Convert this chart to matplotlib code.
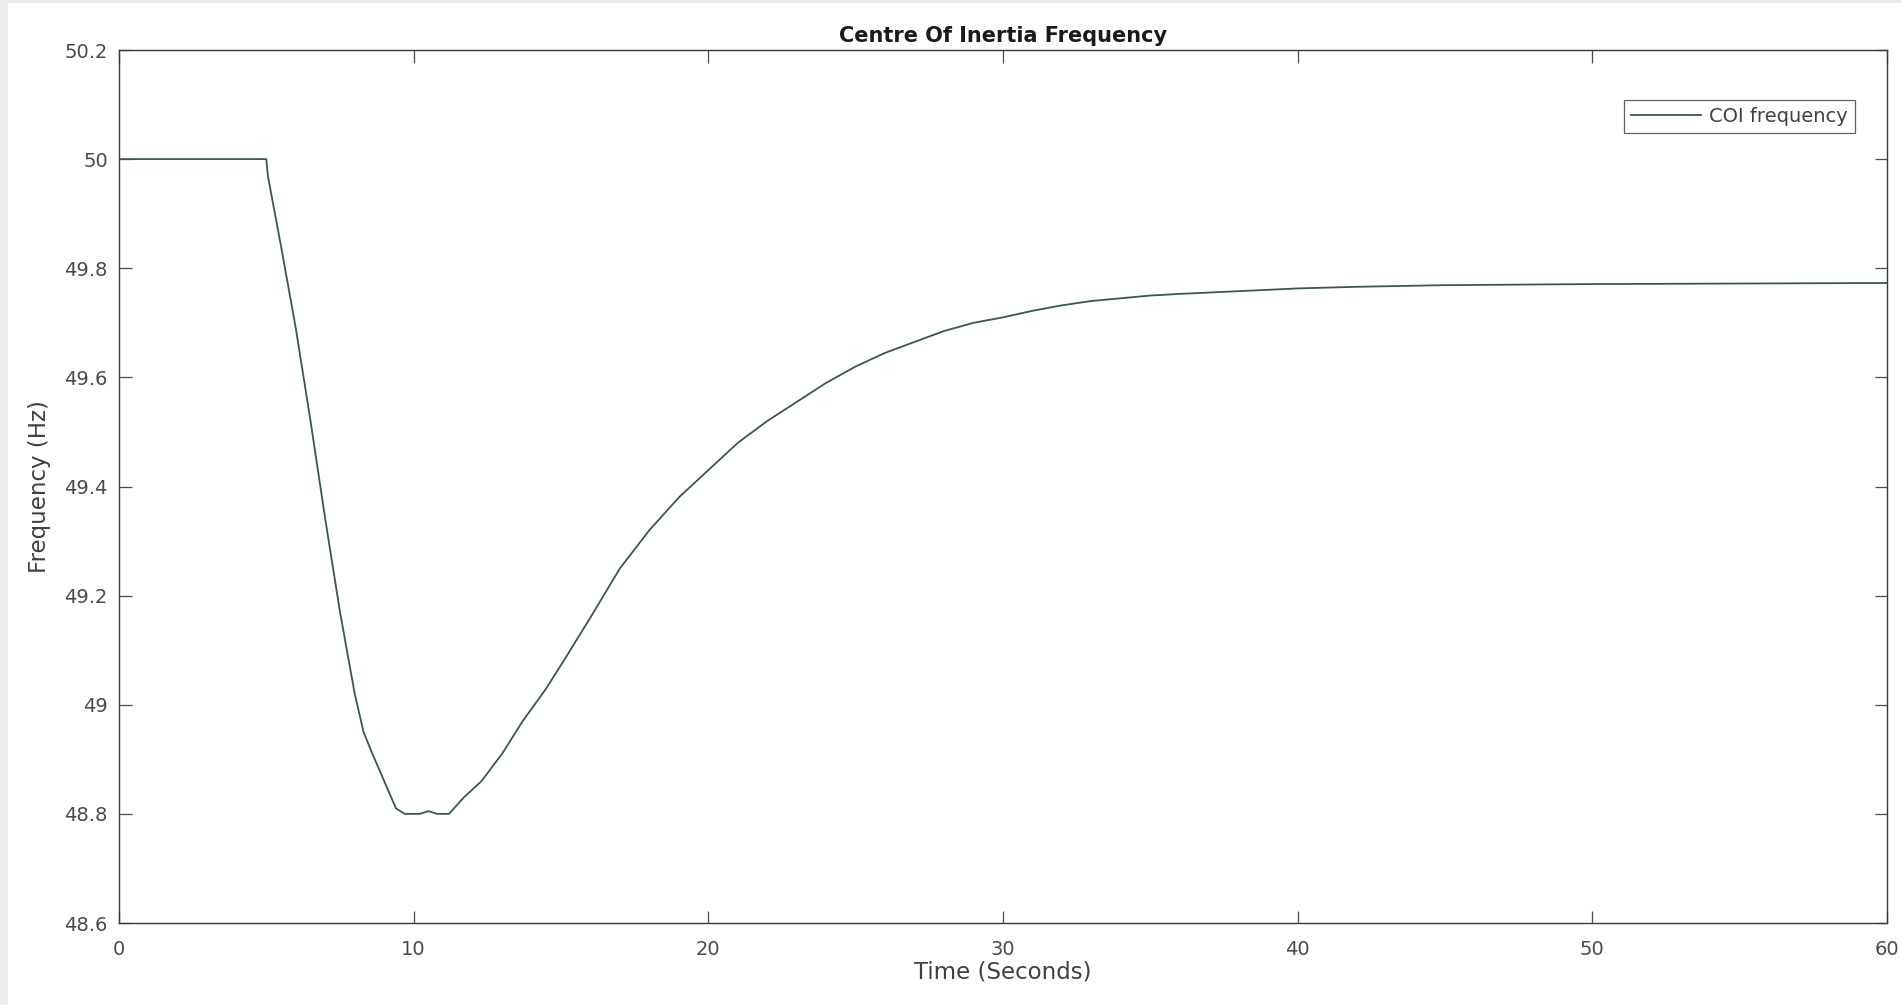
import numpy as np
import matplotlib
matplotlib.use("Agg")
import matplotlib.pyplot as plt
from matplotlib.patches import Rectangle

# COI frequency trace
time_s = [0, 5.0, 5.05, 5.5, 6.0, 6.5, 7.0, 7.5, 8.0, 8.3, 8.6, 9.0, 9.4, 9.7,
          10.2, 10.5, 10.8, 11.2, 11.7, 12.3, 13.0, 13.7, 14.5, 15.2, 16.0,
          17.0, 18.0, 19.0, 20.0, 21.0, 22.0, 23.0, 24.0, 25.0, 26.0, 27.0,
          28.0, 29.0, 30.0, 31.0, 32.0, 33.0, 34.0, 35.0, 36.0, 38.0, 40.0,
          42.0, 45.0, 50.0, 55.0, 60.0]
coi_freq = [50.0, 50.0, 49.97, 49.84, 49.69, 49.52, 49.34, 49.17, 49.02, 48.95,
            48.91, 48.86, 48.81, 48.80, 48.80, 48.805, 48.80, 48.80, 48.83,
            48.86, 48.91, 48.97, 49.03, 49.09, 49.16, 49.25, 49.32, 49.38,
            49.43, 49.48, 49.52, 49.555, 49.59, 49.62, 49.645, 49.665, 49.685,
            49.70, 49.71, 49.722, 49.732, 49.74, 49.745, 49.75, 49.753, 49.758,
            49.763, 49.766, 49.769, 49.771, 49.772, 49.773]

x_ticks = [0, 10, 20, 30, 40, 50, 60]
y_ticks = [48.6, 48.8, 49.0, 49.2, 49.4, 49.6, 49.8, 50.0, 50.2]
y_ticklabels = ["48.6", "48.8", "49", "49.2", "49.4", "49.6", "49.8", "50", "50.2"]

W, H = 1901, 1005
fig = plt.figure(figsize=(W / 100, H / 100), dpi=100, facecolor="#ececec")
# white canvas with a thin grey strip on top / left like the screenshot
fig.patches.append(Rectangle((8 / W, 0), 1, 1 - 3 / H, transform=fig.transFigure,
                             facecolor="white", edgecolor="none", zorder=-1))

ax = fig.add_axes([119 / W, 1 - 923 / H, 1768 / W, 873 / H])
ax.plot(time_s, coi_freq, color="#3a5654", lw=1.3, label="COI frequency")

ax.set_xlim(0, 60)
ax.set_ylim(48.6, 50.2)
ax.set_xticks(x_ticks)
ax.set_yticks(y_ticks)
ax.set_yticklabels(y_ticklabels)

ax.tick_params(direction="in", length=9, width=0.9, colors="#4a4a4a",
               labelsize=14, top=True, right=True)
ax.tick_params(axis="x", pad=12)
ax.tick_params(axis="y", pad=8)
for s in ax.spines.values():
    s.set_color("#3a3a3a")
    s.set_linewidth(1.0)

ax.set_title("Centre Of Inertia Frequency", fontsize=15, fontweight="bold",
             color="#1a1a1a", pad=6)
ax.set_xlabel("Time (Seconds)", fontsize=16.5, color="#404040", labelpad=1)
ax.set_ylabel("Frequency (Hz)", fontsize=16.5, color="#404040", labelpad=10)

leg = ax.legend(loc="upper right", bbox_to_anchor=(0.9819, 0.9427),
                borderaxespad=0, fontsize=14, handlelength=3.6,
                handletextpad=0.45, borderpad=0.35, fancybox=False)
leg.get_frame().set_edgecolor("#3a3a3a")
leg.get_frame().set_linewidth(0.9)
for t in leg.get_texts():
    t.set_color("#404040")

fig.savefig("out.png", dpi=100, facecolor=fig.get_facecolor())
